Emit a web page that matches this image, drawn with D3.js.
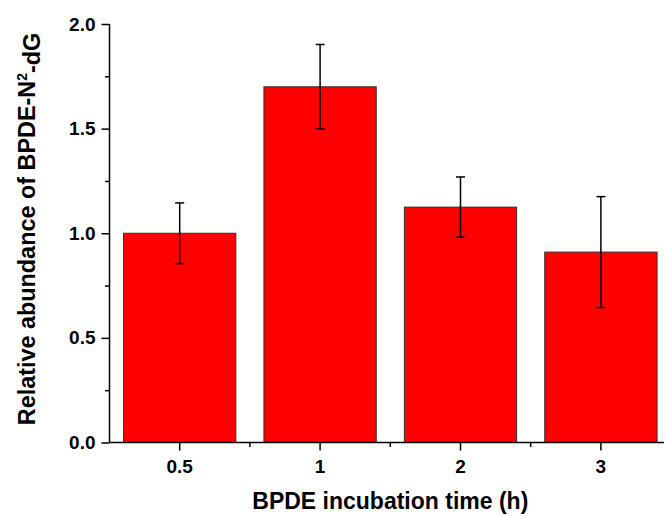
<!DOCTYPE html>
<html>
<head>
<meta charset="utf-8">
<script src="https://cdn.jsdelivr.net/npm/d3@7"></script>
<style>
  body { margin: 0; background: #fff; }
  svg { display: block; }
  text { font-family: "Liberation Sans", Arial, sans-serif; font-weight: bold; fill: #000; }
</style>
</head>
<body>
<svg id="chart" width="664" height="516"></svg>
<script>
const categories = ["0.5", "1", "2", "3"];
const values = [1.0, 1.70, 1.125, 0.91];
const errors = [0.145, 0.202, 0.144, 0.265];
const yTicks = [0.0, 0.5, 1.0, 1.5, 2.0];
const yMinorTicks = [0.25, 0.75, 1.25, 1.75];

const svg = d3.select("#chart");
const x0 = 109.5, x1 = 671.1, yTop = 24, yBot = 442.5;

const x = d3.scaleBand().domain(categories).range([x0, x1])
  .paddingInner(0.2).paddingOuter(0.1);
const y = d3.scaleLinear().domain([0, 2]).range([yBot, yTop]);

// bars
svg.append("g").selectAll("rect").data(categories).join("rect")
  .attr("x", d => x(d))
  .attr("y", (d, i) => y(values[i]))
  .attr("width", x.bandwidth())
  .attr("height", (d, i) => y(0) - y(values[i]))
  .attr("fill", "#ff0000")
  .attr("stroke", "#333")
  .attr("stroke-width", 1);

// error bars
const eb = svg.append("g").attr("stroke", "#000").attr("stroke-width", 1.5);
categories.forEach((c, i) => {
  const cx = x(c) + x.bandwidth() / 2;
  const hi = y(values[i] + errors[i]), lo = y(values[i] - errors[i]);
  eb.append("line").attr("x1", cx).attr("x2", cx).attr("y1", hi).attr("y2", lo);
  eb.append("line").attr("x1", cx - 4.5).attr("x2", cx + 4.5).attr("y1", hi).attr("y2", hi);
  eb.append("line").attr("x1", cx - 4.5).attr("x2", cx + 4.5).attr("y1", lo).attr("y2", lo);
});

// y axis
const yAxis = d3.axisLeft(y).tickValues(yTicks).tickFormat(d3.format(".1f"))
  .tickSize(8).tickSizeOuter(0).tickPadding(6);
const gy = svg.append("g").attr("transform", `translate(${x0},0)`).call(yAxis);
gy.selectAll("text").style("font-size", "19px");
gy.selectAll("line, path").attr("stroke", "#000").attr("stroke-width", 1.5);
gy.select(".domain").attr("d", `M0,${yBot}V${yTop}`);
svg.append("g").attr("transform", `translate(${x0},0)`)
  .call(d3.axisLeft(y).tickValues(yMinorTicks).tickSize(4.5).tickFormat(""))
  .call(g => g.select(".domain").remove())
  .selectAll("line").attr("stroke", "#000").attr("stroke-width", 1.5);

// x axis
const xAxis = d3.axisBottom(x).tickSize(8).tickSizeOuter(0).tickPadding(9);
const gx = svg.append("g").attr("transform", `translate(0,${yBot})`).call(xAxis);
gx.selectAll("text").style("font-size", "19px");
gx.selectAll("line, path").attr("stroke", "#000").attr("stroke-width", 1.5);
gx.select(".domain").attr("d", `M${x0},0H${x1}`);
// minor x ticks at band boundaries
const bounds = categories.slice(1).map(c => x(c) - x.step() * x.paddingInner() / 2);
svg.append("g").attr("transform", `translate(0,${yBot})`).selectAll("line").data(bounds).join("line")
  .attr("x1", d => d).attr("x2", d => d).attr("y1", 0).attr("y2", 4.5)
  .attr("stroke", "#000").attr("stroke-width", 1.5);

// axis titles
svg.append("text").attr("x", (x0 + x1) / 2).attr("y", 509)
  .attr("text-anchor", "middle").style("font-size", "23px")
  .text("BPDE incubation time (h)");

const yt = svg.append("text")
  .attr("transform", `translate(35,229) rotate(-90)`)
  .attr("text-anchor", "middle").style("font-size", "23.4px");
yt.append("tspan").text("Relative abundance of BPDE-N");
yt.append("tspan").attr("dy", "-0.55em").style("font-size", "14px").text("2");
yt.append("tspan").attr("dy", "0.55em").text("-dG");
</script>
</body>
</html>
